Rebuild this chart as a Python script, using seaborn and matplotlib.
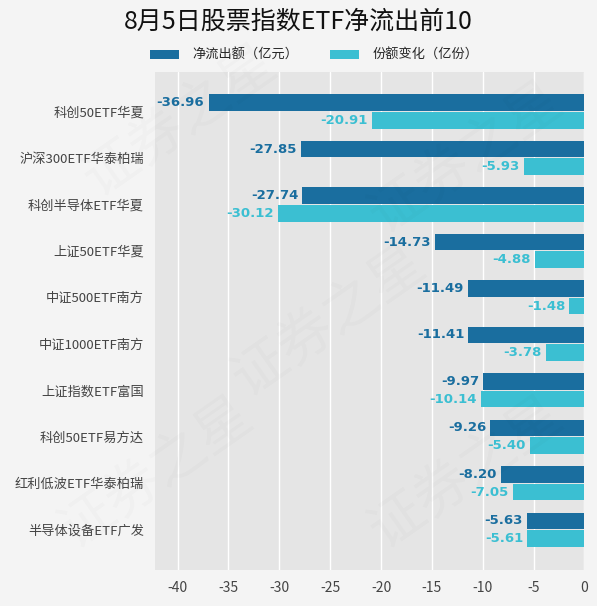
import matplotlib
matplotlib.use("Agg")
import matplotlib.pyplot as plt
import pandas as pd
import seaborn as sns

funds = ["科创50ETF华夏", "沪深300ETF华泰柏瑞", "科创半导体ETF华夏", "上证50ETF华夏",
         "中证500ETF南方", "中证1000ETF南方", "上证指数ETF富国", "科创50ETF易方达",
         "红利低波ETF华泰柏瑞", "半导体设备ETF广发"]
net_outflow = [-36.96, -27.85, -27.74, -14.73, -11.49, -11.41, -9.97, -9.26, -8.20, -5.63]
share_change = [-20.91, -5.93, -30.12, -4.88, -1.48, -3.78, -10.14, -5.40, -7.05, -5.61]
series_names = ["净流出额（亿元）", "份额变化（亿份）"]
colors = ["#1a6e9f", "#3bbfd2"]

df = pd.DataFrame({
    "fund": funds * 2,
    "value": net_outflow + share_change,
    "series": [series_names[0]] * len(funds) + [series_names[1]] * len(funds),
})

sns.set_theme(style="darkgrid", rc={"axes.facecolor": "#e5e5e5", "figure.facecolor": "#f4f4f4",
                                    "grid.color": "white", "grid.linewidth": 1.0})
plt.rcParams["font.family"] = ["Noto Sans CJK SC", "DejaVu Sans"]
plt.rcParams["axes.unicode_minus"] = False

fig = plt.figure(figsize=(5.97, 6.06), dpi=100)
ax = fig.add_axes([0.26, 0.06, 0.719, 0.822])

sns.barplot(data=df, y="fund", x="value", hue="series", palette=colors, orient="h",
            width=0.76, gap=0.06, ax=ax, saturation=1, linewidth=0, edgecolor="none")

for cont, col in zip(ax.containers, colors):
    labels = ["%.2f" % v for v in cont.datavalues]
    ax.bar_label(cont, labels=labels, padding=3, color=col, fontsize=9.5, fontweight="bold",
                 family=["DejaVu Sans"])

ax.set_xlim(-42.2, 0)
ax.set_ylim(9.86, -0.86)
ax.set_xticks(range(-40, 1, 5))
ax.set_xlabel("")
ax.set_ylabel("")
ax.tick_params(axis="both", colors="#444444", labelsize=10, length=4, width=0.8, pad=4)
ax.tick_params(axis="y", labelsize=9.5)
for s in ax.spines.values():
    s.set_visible(False)

ax.legend(loc="lower center", bbox_to_anchor=(0.37, 0.995), ncol=2, frameon=False,
          fontsize=9.5, handlelength=2.2, handleheight=0.7, columnspacing=2.4, handletextpad=1.0)

fig.suptitle("8月5日股票指数ETF净流出前10", fontsize=18, y=0.985, color="#111111")

# faint watermark
for x, y in [(0.30, 0.80), (0.55, 0.47), (0.26, 0.22), (0.78, 0.22), (0.78, 0.74)]:
    fig.text(x, y, "证券之星", fontsize=40, rotation=35, color="#000000", alpha=0.02,
             ha="center", va="center")

fig.savefig("out.png", dpi=100)
